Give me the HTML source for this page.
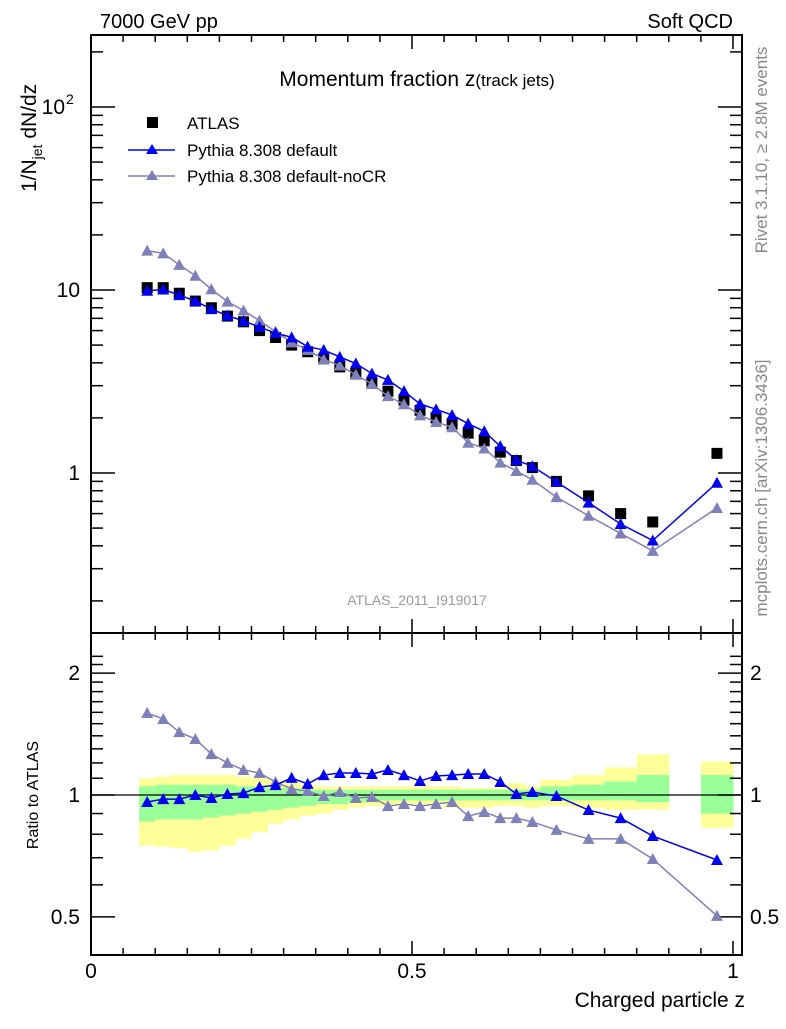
<!DOCTYPE html>
<html><head><meta charset="utf-8"><style>
body{margin:0;background:#fff}
svg{font-family:"Liberation Sans",sans-serif}
</style></head><body>
<svg id="c" width="786" height="1024" xmlns="http://www.w3.org/2000/svg">
<text x="100" y="28" font-size="20">7000 GeV pp</text>
<text x="733" y="28" font-size="20" text-anchor="end">Soft QCD</text>
<text x="417" y="86" font-size="21" text-anchor="middle">Momentum fraction z<tspan font-size="17">(track jets)</tspan></text>
<text x="417" y="605" font-size="14" fill="#999" text-anchor="middle">ATLAS_2011_I919017</text>
<text transform="translate(767,150) rotate(-90)" font-size="17" fill="#888" text-anchor="middle">Rivet 3.1.10, ≥ 2.8M events</text>
<text transform="translate(767,488) rotate(-90)" font-size="17" fill="#888" text-anchor="middle">mcplots.cern.ch [arXiv:1306.3436]</text>
<text transform="translate(36,192) rotate(-90)" font-size="21">1/N<tspan font-size="14" dy="6">jet</tspan><tspan dy="-6"> dN/dz</tspan></text>
<text transform="translate(38,795) rotate(-90)" font-size="16" text-anchor="middle">Ratio to ATLAS</text>
<text x="745" y="1007" font-size="21" text-anchor="end">Charged particle z</text>
<g>
<rect x="147" y="117" width="11" height="11" fill="#000"/>
<text x="187" y="129" font-size="17">ATLAS</text>
<line x1="128" y1="150" x2="175" y2="150" stroke="#00f" stroke-width="1.5"/>
<polygon points="152,144 146,154 158,154" fill="#00f"/>
<text x="187" y="156" font-size="17">Pythia 8.308 default</text>
<line x1="128" y1="176" x2="175" y2="176" stroke="#8080b8" stroke-width="1.5"/>
<polygon points="152,170 146,180 158,180" fill="#8080b8"/>
<text x="187" y="182" font-size="17">Pythia 8.308 default-noCR</text>
</g>
</svg>
<script>
const zCenters=[0.0875,0.1125,0.1375,0.1625,0.1875,0.2125,0.2375,0.2625,0.2875,0.3125,0.3375,0.3625,0.3875,0.4125,0.4375,0.4625,0.4875,0.5125,0.5375,0.5625,0.5875,0.6125,0.6375,0.6625,0.6875,0.725,0.775,0.825,0.875,0.975];
const binLo=[0.075,0.1,0.125,0.15,0.175,0.2,0.225,0.25,0.275,0.3,0.325,0.35,0.375,0.4,0.425,0.45,0.475,0.5,0.525,0.55,0.575,0.6,0.625,0.65,0.675,0.7,0.75,0.8,0.85,0.95];
const binHi=[0.1,0.125,0.15,0.175,0.2,0.225,0.25,0.275,0.3,0.325,0.35,0.375,0.4,0.425,0.45,0.475,0.5,0.525,0.55,0.575,0.6,0.625,0.65,0.675,0.7,0.75,0.8,0.85,0.9,1.0];
const atlas=[10.3,10.3,9.6,8.7,8.0,7.2,6.7,6.0,5.5,5.0,4.6,4.2,3.8,3.5,3.1,2.8,2.5,2.2,2.0,1.85,1.65,1.5,1.3,1.17,1.07,0.9,0.75,0.6,0.54,1.28];
const ratioDefault=[0.961,0.977,0.977,1.0,0.983,1.006,1.011,1.046,1.058,1.102,1.065,1.12,1.133,1.133,1.127,1.153,1.12,1.083,1.114,1.12,1.127,1.127,1.077,1.006,1.017,0.994,0.918,0.877,0.792,0.691];
const ratioNoCR=[1.594,1.54,1.43,1.375,1.262,1.2,1.153,1.133,1.077,1.035,1.023,0.994,1.017,0.983,0.989,0.939,0.95,0.939,0.95,0.961,0.887,0.908,0.877,0.877,0.858,0.82,0.779,0.779,0.695,0.503];
const yellowHi=[1.10,1.11,1.12,1.12,1.12,1.12,1.11,1.10,1.09,1.08,1.06,1.05,1.05,1.05,1.05,1.05,1.05,1.05,1.05,1.05,1.04,1.04,1.04,1.07,1.05,1.09,1.12,1.17,1.26,1.21];
const yellowLo=[0.75,0.745,0.74,0.725,0.73,0.75,0.78,0.81,0.85,0.87,0.89,0.90,0.92,0.93,0.94,0.94,0.95,0.95,0.95,0.93,0.93,0.93,0.94,0.94,0.93,0.94,0.93,0.92,0.92,0.83];
const greenHi=[1.05,1.06,1.06,1.06,1.06,1.06,1.05,1.05,1.04,1.04,1.03,1.03,1.03,1.03,1.03,1.03,1.03,1.03,1.03,1.03,1.03,1.03,1.03,1.03,1.03,1.05,1.06,1.08,1.12,1.12];
const greenLo=[0.86,0.87,0.87,0.87,0.88,0.89,0.90,0.91,0.92,0.93,0.94,0.95,0.95,0.96,0.96,0.97,0.97,0.97,0.97,0.97,0.97,0.97,0.97,0.97,0.97,0.97,0.97,0.97,0.96,0.90];
const xTickLabels=["0","0.5","1"];
const xTickVals=[0,0.5,1];
const ratioTickVals=[0.5,1,2];
const ratioTickLabels=["0.5","1","2"];

const NS="http://www.w3.org/2000/svg";
const svg=document.getElementById('c');
const L=91,R=742,T=35,MB=633,RB=955;
const X=z=>91+642*z;
const Y=v=>473-183*Math.log10(v);
const YR=r=>795-405*Math.log10(r);
function mk(tag,attrs,parent){const e=document.createElementNS(NS,tag);for(const k in attrs)e.setAttribute(k,attrs[k]);(parent||svg).appendChild(e);return e;}

const bands=mk('g',{});


for(let i=0;i<binLo.length;i++){
  const y=mk('rect',{x:X(binLo[i]),y:YR(yellowHi[i]),width:X(binHi[i])-X(binLo[i])+0.5,height:YR(yellowLo[i])-YR(yellowHi[i]),fill:'#ffff99'},bands);
  
  
  const g=mk('rect',{x:X(binLo[i]),y:YR(greenHi[i]),width:X(binHi[i])-X(binLo[i])+0.5,height:YR(greenLo[i])-YR(greenHi[i]),fill:'#99ff99'},bands);
  
  
}
const one=mk('line',{x1:L,x2:R,y1:YR(1),y2:YR(1),stroke:'#000','stroke-width':1.3});



for(const [t,b,nm] of [[T,MB,'main-panel-frame'],[MB,RB,'ratio-panel-frame']]){
  const f=mk('rect',{x:L,y:t,width:R-L,height:b-t,fill:'none',stroke:'#000','stroke-width':2});
  
  
}
const ticks=mk('g',{stroke:'#000','stroke-width':1.5});


for(let k=0;k<=20;k++){
  const z=k*0.05,x=X(z),big=(k%10==0),len=big?14:7;
  for(const [t,b] of [[T,MB],[MB,RB]]){
    mk('line',{x1:x,x2:x,y1:t,y2:t+len},ticks);
    mk('line',{x1:x,x2:x,y1:b,y2:b-len},ticks);
  }
}
for(let d=-1;d<=2;d++){
  for(let m=1;m<=9;m++){
    const v=m*Math.pow(10,d),y=Y(v);
    if(y<T||y>MB)continue;
    const len=m==1?24:12;
    mk('line',{x1:L,x2:L+len,y1:y,y2:y},ticks);
    mk('line',{x1:R,x2:R-len,y1:y,y2:y},ticks);
  }
}
const rminor=[0.5,0.6,0.7,0.8,0.9,1,1.1,1.2,1.3,1.4,1.5,1.6,1.7,1.8,1.9,2,2.1,2.2];
for(const r of rminor){
  const y=YR(r);if(y<MB||y>RB)continue;
  const len=(r==0.5||r==1||r==2)?24:12;
  mk('line',{x1:L,x2:L+len,y1:y,y2:y},ticks);
  mk('line',{x1:R,x2:R-len,y1:y,y2:y},ticks);
}
for(let i=0;i<xTickVals.length;i++){
  const t=mk('text',{x:X(xTickVals[i]),y:978,'font-size':21,'text-anchor':'middle'});
  t.textContent=xTickLabels[i];
  
  
}
for(let i=0;i<ratioTickVals.length;i++){
  for(const [x,a] of [[80,'end'],[750,'start']]){
    const t=mk('text',{x:x,y:YR(ratioTickVals[i])+7,'font-size':21,'text-anchor':a});
    t.textContent=ratioTickLabels[i];
    
    
  }
}
const yl=[[1,'1'],[10,'10']];
for(const [v,s] of yl){
  const t=mk('text',{x:80,y:Y(v)+7,'font-size':21,'text-anchor':'end'});
  t.textContent=s;
  
  
}
const t100=mk('text',{x:65,y:Y(100)+7,'font-size':21,'text-anchor':'end'});
t100.textContent='10';


const sup=mk('text',{x:66,y:Y(100)-3,'font-size':14});
sup.textContent='2';



function series(vals,yf,color,name){
  const g=mk('g',{});
  
  
  const pts=vals.map((v,i)=>X(zCenters[i])+','+yf(v)).join(' ');
  const pl=mk('polyline',{points:pts,fill:'none',stroke:color,'stroke-width':1.5},g);
  
  
  vals.forEach((v,i)=>{
    const x=X(zCenters[i]),y=yf(v);
    const p=mk('polygon',{points:`${x},${y-6} ${x-6},${y+5} ${x+6},${y+5}`,fill:color},g);
    
    
  });
}
const ag=mk('g',{});


atlas.forEach((v,i)=>{
  const r=mk('rect',{x:X(zCenters[i])-5.5,y:Y(v)-5.5,width:11,height:11,fill:'#000'},ag);
  
  
});
series(atlas.map((a,i)=>a*ratioNoCR[i]),Y,'#8080b8','nocr-series');
series(atlas.map((a,i)=>a*ratioDefault[i]),Y,'#0000ee','default-series');
series(ratioNoCR,YR,'#8080b8','nocr-ratio');
series(ratioDefault,YR,'#0000ee','default-ratio');
</script>
</body></html>
